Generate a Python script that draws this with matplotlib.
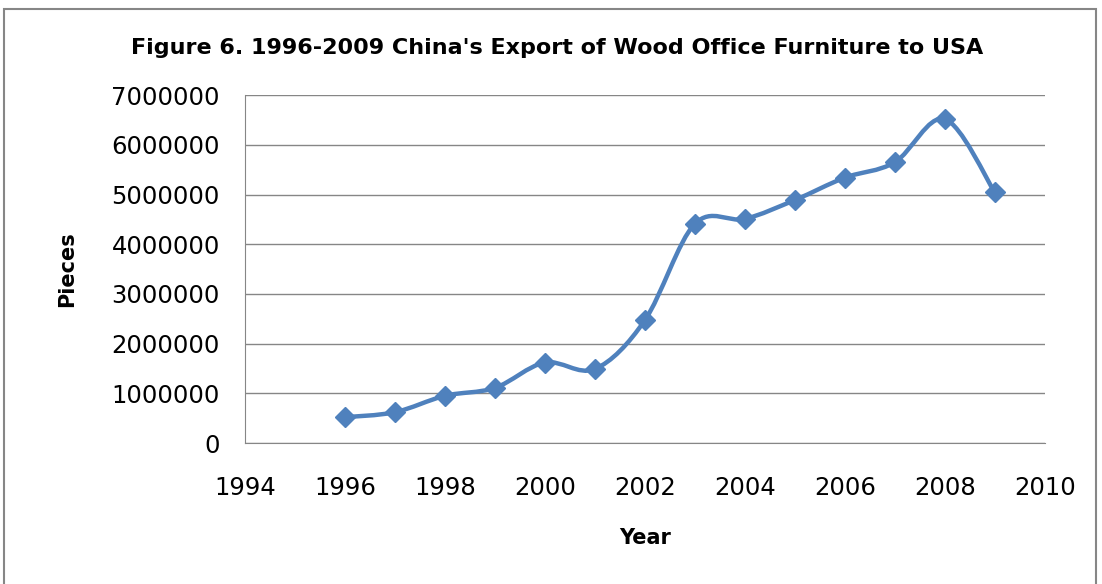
import matplotlib.pyplot as plt
from matplotlib.path import Path
from matplotlib.patches import PathPatch, Rectangle
from matplotlib.ticker import FuncFormatter
import numpy as np

years = [1996, 1997, 1998, 1999, 2000, 2001, 2002,
         2003, 2004, 2005, 2006, 2007, 2008, 2009]
pieces = [520000, 620000, 950000, 1110000, 1620000, 1490000, 2470000,
          4410000, 4510000, 4890000, 5340000, 5650000, 6520000, 5050000]

blue = '#4F81BD'
grid_col = '#868686'

fig = plt.figure(figsize=(11.02, 5.84), dpi=100)
ax = fig.add_axes([0.2223, 0.2414, 0.948 - 0.2223, 0.837 - 0.2414])

# smoothed line: cubic bezier segments with catmull-rom style handles
x = np.array(years, dtype=float)
y = np.array(pieces, dtype=float)
verts = [(x[0], y[0])]
codes = [Path.MOVETO]
n = len(x)
for i in range(n - 1):
    x0, y0 = (x[i - 1], y[i - 1]) if i > 0 else (x[i], y[i])
    x3, y3 = (x[i + 2], y[i + 2]) if i + 2 < n else (x[i + 1], y[i + 1])
    c1 = (x[i] + (x[i + 1] - x0) / 6, y[i] + (y[i + 1] - y0) / 6)
    c2 = (x[i + 1] - (x3 - x[i]) / 6, y[i + 1] - (y3 - y[i]) / 6)
    verts += [c1, c2, (x[i + 1], y[i + 1])]
    codes += [Path.CURVE4] * 3
ax.add_patch(PathPatch(Path(verts, codes), facecolor='none', edgecolor=blue,
                       lw=3.2, capstyle='round', joinstyle='round', zorder=3))
ax.plot(years, pieces, linestyle='none', marker='D', markersize=10,
        color=blue, zorder=4)

ax.set_xlim(1994, 2010)
ax.set_ylim(0, 7000000)
ax.set_xticks(range(1994, 2011, 2))
ax.set_yticks(range(0, 7000001, 1000000))
ax.yaxis.set_major_formatter(FuncFormatter(lambda v, p: '%d' % v))
ax.yaxis.grid(True, color=grid_col, lw=1)
ax.set_axisbelow(True)
for s in ['top', 'right']:
    ax.spines[s].set_visible(False)
ax.spines['left'].set_color(grid_col)
ax.spines['bottom'].set_color(grid_col)
ax.tick_params(length=0, labelsize=17.5, colors='black')
ax.tick_params(axis='y', pad=18)
ax.tick_params(axis='x', pad=24)

ax.set_xlabel('Year', fontsize=15, fontweight='bold', va='center')
ax.set_ylabel('Pieces', fontsize=15, fontweight='bold', va='center')
ax.xaxis.set_label_coords(0.5, -0.273)
ax.yaxis.set_label_coords(-0.2225, 0.5)
fig.text(0.506, 0.918, "Figure 6. 1996-2009 China's Export of Wood Office Furniture to USA",
         ha='center', va='center', fontsize=16, fontweight='bold')

# outer chart frame
fig.patches.append(Rectangle((0.004, -0.05), 0.991, 1.035, transform=fig.transFigure,
                             fill=False, edgecolor='#868686', lw=1.5))

fig.savefig('out.png', dpi=100)
